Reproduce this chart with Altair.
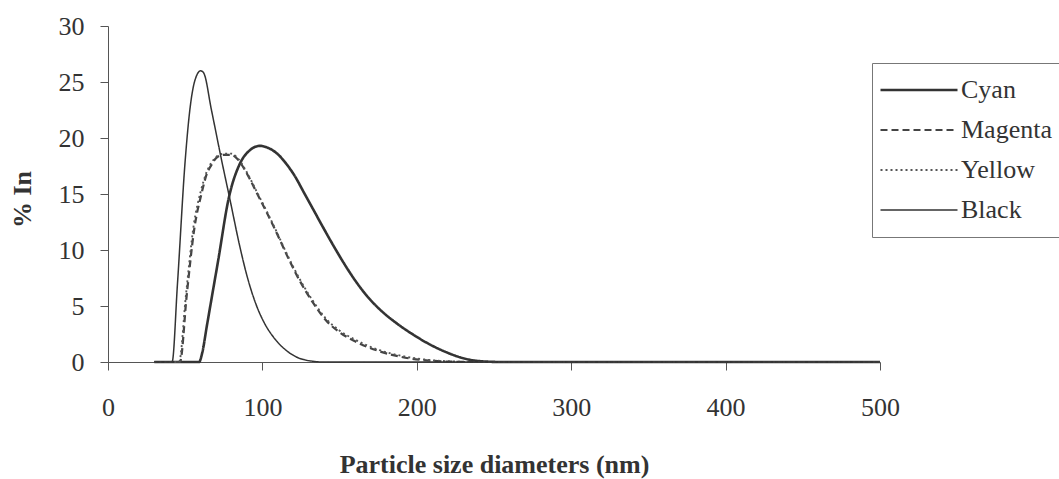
import altair as alt
import pandas as pd

series_order = ["Cyan", "Magenta", "Yellow", "Black"]

cyan_x = [30, 59, 61, 64, 67.5, 71.4, 78, 85.4, 91, 98.4, 104, 110, 116, 121, 127, 133, 140, 147, 154, 161, 168, 176, 187, 197.6, 208, 219, 228, 236, 245, 255, 500]
cyan_y = [0, 0, 0.8, 3.2, 6.0, 9.1, 14.5, 17.7, 18.8, 19.3, 19.1, 18.55, 17.6, 16.6, 15.1, 13.6, 11.85, 10.15, 8.55, 7.1, 5.85, 4.7, 3.45, 2.45, 1.6, 0.88, 0.42, 0.16, 0.04, 0, 0]

magenta_x = [30, 46.6, 51, 56, 60.5, 64, 67, 70, 75, 80, 84, 88, 92, 96, 103, 110, 116, 124, 133, 141, 150, 160, 176, 190, 208, 225, 238, 500]
magenta_y = [0, 0, 6.0, 12.0, 15.0, 16.8, 17.6, 18.2, 18.5, 18.5, 18.1, 17.3, 16.3, 15.2, 13.3, 11.3, 9.5, 7.3, 5.25, 3.75, 2.65, 1.85, 0.95, 0.45, 0.13, 0.02, 0, 0]

yellow_x = [30, 46, 50.5, 55.5, 60, 64, 67, 70, 75, 80, 84, 88, 92, 96, 103, 110, 116, 124, 133, 141, 150, 160, 176, 190, 208, 225, 240, 500]
yellow_y = [0, 0, 6.0, 12.2, 15.2, 17.0, 17.8, 18.3, 18.6, 18.6, 18.2, 17.4, 16.4, 15.3, 13.4, 11.4, 9.6, 7.45, 5.4, 3.9, 2.8, 2.0, 1.05, 0.55, 0.18, 0.04, 0, 0]

black_x = [30, 41.5, 45, 50, 53, 56, 60, 62, 67, 73.6, 79, 85.4, 90, 96, 102, 107, 114, 122, 130, 140, 500]
black_y = [0, 0, 7.0, 18.0, 22.5, 25.0, 26.0, 25.8, 22.5, 18.0, 14.5, 10.3, 7.7, 5.1, 3.3, 2.25, 1.2, 0.45, 0.12, 0, 0]

x_ticks = [0, 100, 200, 300, 400, 500]
y_ticks = [0, 5, 10, 15, 20, 25, 30]

rows = []
for name, xs, ys in [("Cyan", cyan_x, cyan_y), ("Magenta", magenta_x, magenta_y),
                     ("Yellow", yellow_x, yellow_y), ("Black", black_x, black_y)]:
    for i, (a, b) in enumerate(zip(xs, ys)):
        rows.append({"size": a, "pct": b, "series": name, "order": i})
df = pd.DataFrame(rows)

FONT = "Liberation Serif"
INK = "#333333"

chart = alt.Chart(df).mark_line(interpolate="monotone").encode(
    x=alt.X("size:Q", scale=alt.Scale(domain=[0, 500], nice=False),
            axis=alt.Axis(values=x_ticks, title="Particle size diameters (nm)", grid=False,
                          tickSize=8, labelPadding=24, labelFontSize=26, labelFont=FONT,
                          labelColor=INK, labelFlush=False, titleFont=FONT, titleFontSize=26,
                          titleFontWeight="bold", titleColor=INK, titleY=110,
                          titleBaseline="alphabetic", domainColor="#555555", tickColor="#555555")),
    y=alt.Y("pct:Q", scale=alt.Scale(domain=[0, 30], nice=False),
            axis=alt.Axis(values=y_ticks, title="% In", grid=False, tickSize=8,
                          labelPadding=16, labelFontSize=26, labelFont=FONT, labelColor=INK,
                          labelFlush=False,
                          titleFont=FONT, titleFontSize=26, titleFontWeight="bold", titleColor=INK,
                          titleAngle=270, titleX=-86, titleY=173, titleAlign="center",
                          titleBaseline="middle", domainColor="#555555", tickColor="#555555")),
    color=alt.Color("series:N", scale=alt.Scale(domain=series_order,
                    range=["#333333", "#444444", "#555555", "#333333"]),
                    legend=alt.Legend(title=None)),
    strokeDash=alt.StrokeDash("series:N", scale=alt.Scale(domain=series_order,
                    range=[[1, 0], [7, 4], [2, 3], [1, 0]]), legend=alt.Legend(title=None)),
    strokeWidth=alt.StrokeWidth("series:N", scale=alt.Scale(domain=series_order,
                    range=[2.6, 1.5, 1.3, 1.2]), legend=alt.Legend(title=None)),
    order="order:Q",
).properties(
    width=772, height=336,
    background="white",
    autosize=alt.AutoSizeParams(type="none"),
    padding={"left": 108, "top": 26, "right": 179, "bottom": 117},
).configure_view(stroke=None).configure_legend(
    orient="none", legendX=764, legendY=37, padding=7, strokeColor="#777777",
    fillColor="white", clipHeight=40, rowPadding=0, symbolType="stroke",
    symbolSize=5929, labelOffset=2, labelFontSize=26, labelFont=FONT, labelColor=INK,
)

chart.save("out.html", embed_options={"renderer": "svg", "actions": False})
